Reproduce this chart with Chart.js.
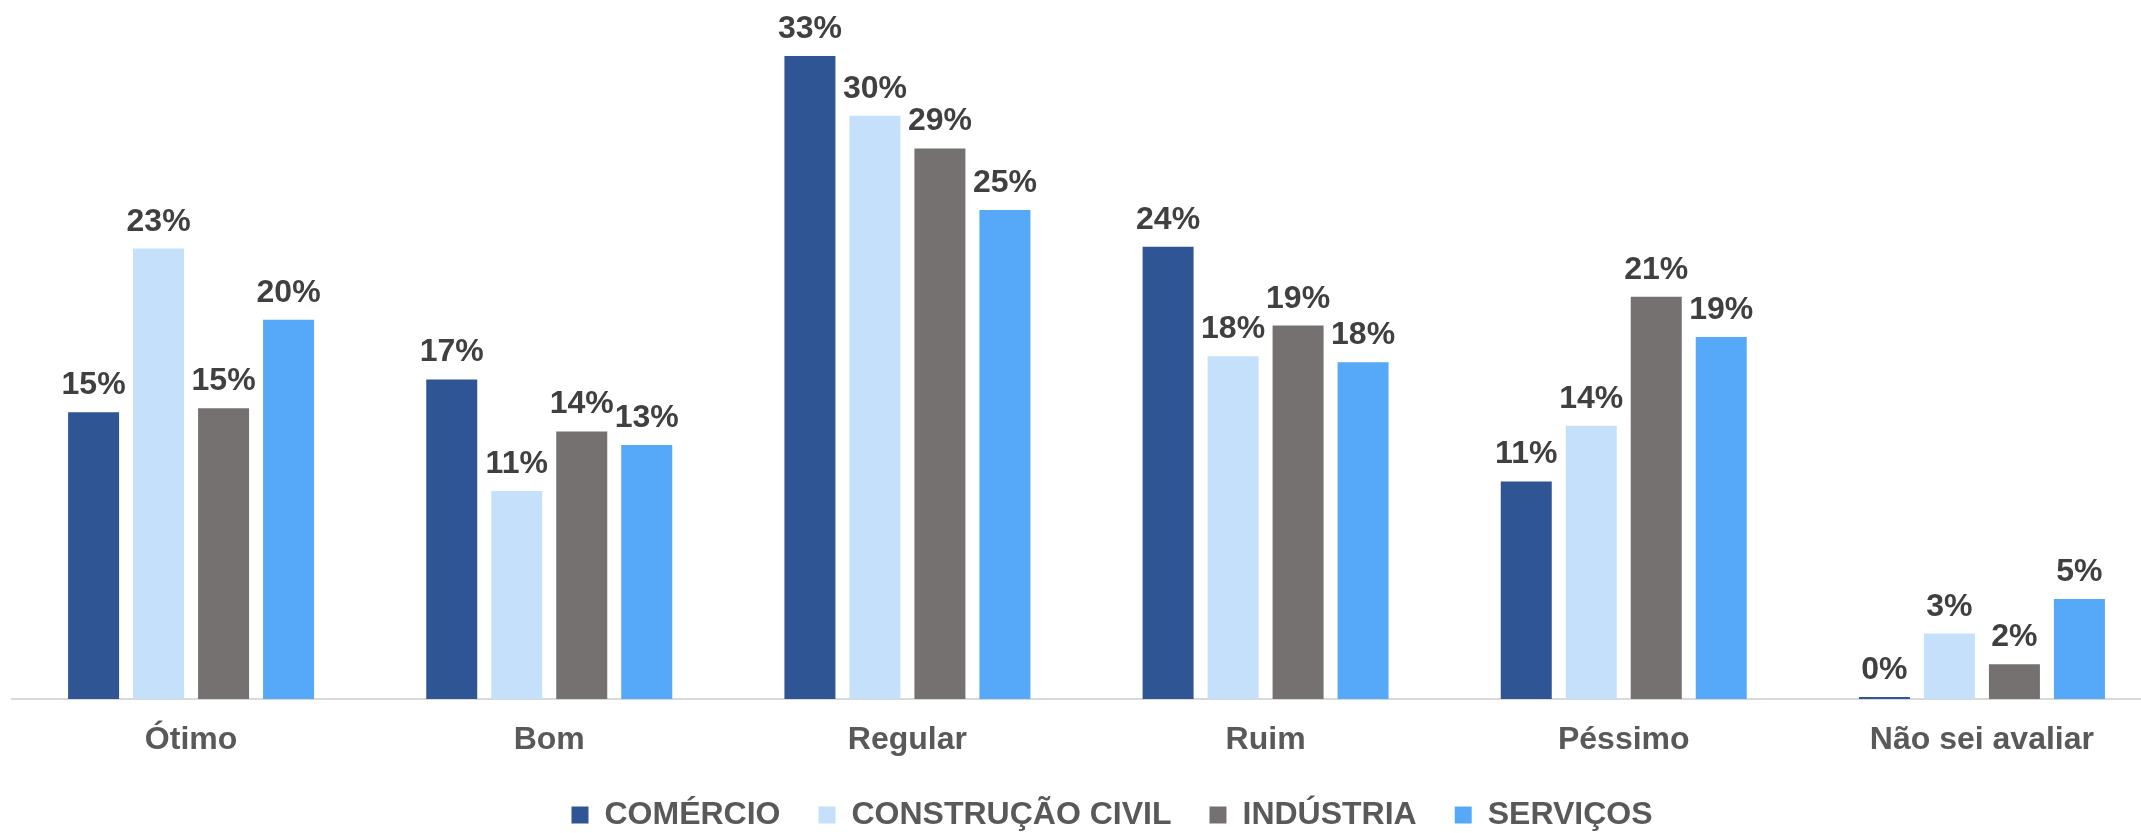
<!DOCTYPE html>
<html>
<head>
<meta charset="utf-8">
<script src="https://cdn.jsdelivr.net/npm/chart.js@4"></script>
<style>
  html, body { margin: 0; padding: 0; background: #ffffff; overflow: hidden; }
  #wrap { width: 2212px; height: 841px; }
</style>
</head>
<body>
<div id="wrap"><canvas id="c" width="2212" height="841"></canvas></div>
<script>
const categories = ['Ótimo', 'Bom', 'Regular', 'Ruim', 'Péssimo', 'Não sei avaliar'];
const seriesNames = ['COMÉRCIO', 'CONSTRUÇÃO CIVIL', 'INDÚSTRIA', 'SERVIÇOS'];
const comercio   = [14.9, 16.6, 33.4, 23.5, 11.3, 0.1];
const construcao = [23.4, 10.8, 30.3, 17.8, 14.2, 3.4];
const industria  = [15.1, 13.9, 28.6, 19.4, 20.9, 1.8];
const servicos   = [19.7, 13.2, 25.4, 17.5, 18.8, 5.2];
const colors = ['#2F5594', '#C5E0FB', '#757170', '#56A8F8'];

const FONT = "'Liberation Sans', Arial, sans-serif";

const valueLabels = {
  id: 'valueLabels',
  afterDatasetsDraw(chart) {
    const ctx = chart.ctx;
    ctx.save();
    ctx.font = 'bold 32px ' + FONT;
    ctx.fillStyle = '#404040';
    ctx.textAlign = 'center';
    ctx.textBaseline = 'alphabetic';
    chart.data.datasets.forEach((ds, di) => {
      const meta = chart.getDatasetMeta(di);
      meta.data.forEach((el, i) => {
        ctx.fillText(Math.round(ds.data[i]) + '%', el.x, el.y - 18);
      });
    });
    ctx.restore();
  }
};

const seriesData = [comercio, construcao, industria, servicos];

new Chart(document.getElementById('c'), {
  type: 'bar',
  data: {
    labels: categories,
    datasets: seriesNames.map((name, i) => ({
      label: name,
      data: seriesData[i],
      backgroundColor: colors[i],
      borderWidth: 0,
      categoryPercentage: 0.7259,
      barPercentage: 0.7846
    }))
  },
  options: {
    responsive: false,
    animation: false,
    devicePixelRatio: 1,
    layout: { padding: { left: 12, top: 6, right: 0, bottom: 0 } },
    plugins: {
      tooltip: { enabled: false },
      legend: {
        position: 'bottom',
        labels: {
          boxWidth: 17,
          boxHeight: 17,
          padding: 38,
          color: '#595959',
          font: { family: FONT, size: 32, weight: 'bold' }
        }
      }
    },
    scales: {
      x: {
        grid: { display: false, drawTicks: false },
        border: { display: true, color: '#D9D9D9', width: 2 },
        ticks: {
          padding: 22,
          color: '#595959',
          font: { family: FONT, size: 32, weight: 'bold' }
        },
        afterFit(scale) { scale.height = 62; }
      },
      y: {
        position: 'right',
        min: 0,
        max: 36,
        grid: { display: false, drawTicks: false },
        border: { display: false },
        ticks: { display: false },
        afterFit(scale) { scale.width = 51; }
      }
    }
  },
  plugins: [valueLabels]
});
</script>
</body>
</html>
